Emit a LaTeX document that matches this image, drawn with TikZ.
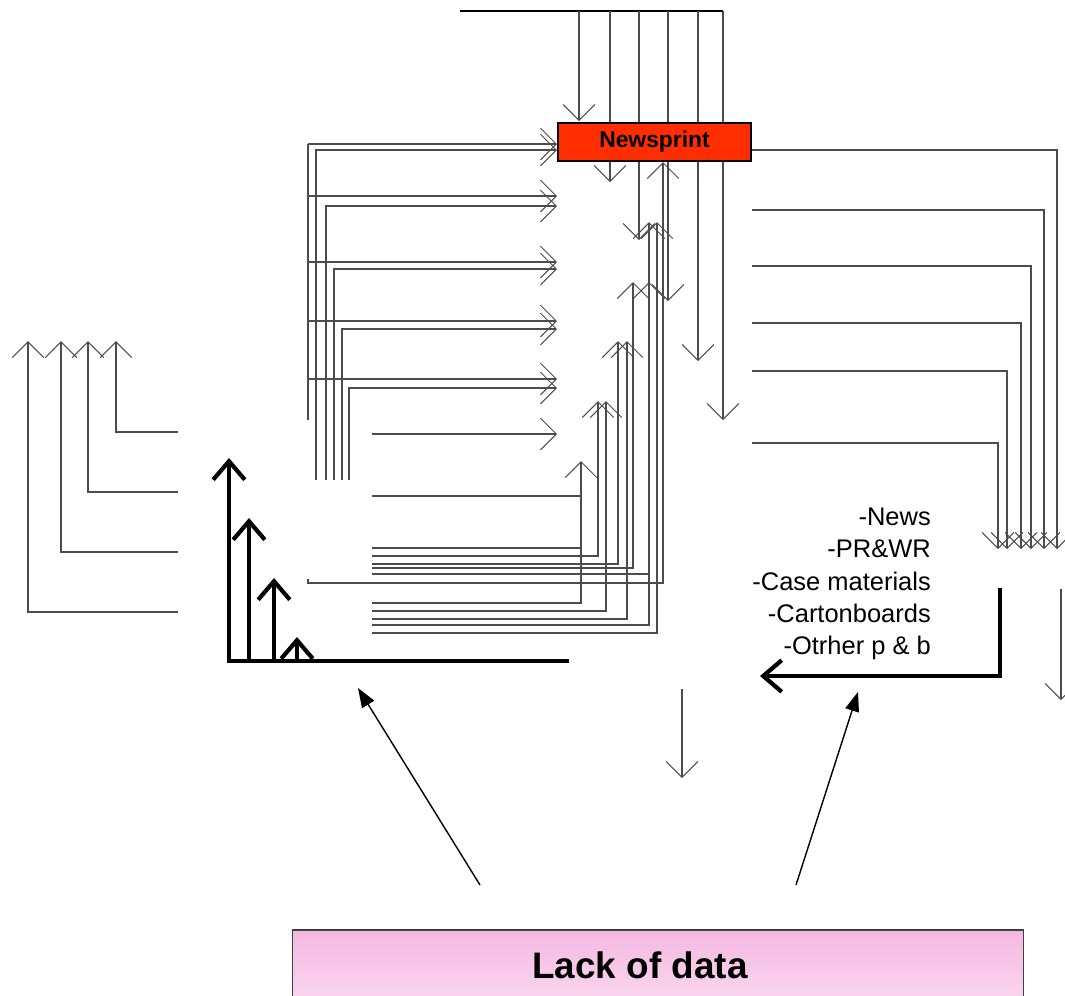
\documentclass[tikz,border=0pt]{standalone}
\usepackage{fontspec}
\setmainfont{Liberation Sans}
\usepackage{tikz}
\usetikzlibrary{arrows.meta}
\usetikzlibrary{positioning}
\definecolor{newsred}{RGB}{255,45,0}
\definecolor{lacktop}{RGB}{244,184,226}
\definecolor{lackbot}{RGB}{250,214,238}
\tikzset{
	newsbox/.style={rectangle, draw=black, line width=1.3pt, fill=newsred, minimum width=3.86cm, minimum height=0.76cm, inner sep=0pt, font=\fontsize{13}{15}\selectfont\bfseries},
	lackbox/.style={rectangle, draw=black!75, line width=0.6pt, top color=lacktop, bottom color=lackbot, minimum width=14.64cm, minimum height=1.4cm, inner sep=0pt, font=\fontsize{21}{24}\selectfont\bfseries}
}
\tikzset{
	flow/.style={draw=black!70, line width=0.6pt, -{Straight Barb[length=9pt,width=18pt]}},
	plainflow/.style={draw=black!70, line width=0.6pt},
	bigflow/.style={line width=2.4pt, -{Straight Barb[length=10.5pt,width=18pt]}},
	dataarrow/.style={line width=0.8pt, -{Triangle[length=11pt,width=8pt]}}
}
\begin{document}
\begin{tikzpicture}[x=0.02cm,y=-0.02cm]
		\useasboundingbox (0,0) rectangle (1065,995);
		
		%Lines from the top
		\draw[plainflow, draw=black] (460,11) -- (723,11);
		\draw[flow] (579,11) -- (579,121);
		\draw[flow] (610,11) -- (610,182);
		\draw[flow] (639,11) -- (639,240);
		\draw[flow] (668,11) -- (668,301);
		\draw[flow] (698,11) -- (698,361);
		\draw[flow] (723,11) -- (723,420);
		
		%Lines from the left
		\draw[plainflow] (308,420) -- (308,144);
		\draw[flow] (308,144) -- (557,144);
		\draw[flow] (316,480) -- (316,150) -- (557,150);
		\draw[flow] (308,196) -- (557,196);
		\draw[flow] (326,480) -- (326,206) -- (557,206);
		\draw[flow] (308,262) -- (557,262);
		\draw[flow] (334,480) -- (334,269) -- (557,269);
		\draw[flow] (308,321) -- (557,321);
		\draw[flow] (342,480) -- (342,329) -- (557,329);
		\draw[flow] (308,379) -- (557,379);
		\draw[flow] (349,480) -- (349,388) -- (557,388);
		\draw[flow] (372,434) -- (557,434);
		
		%Lines from below
		\draw[plainflow] (372,496) -- (581,496);
		\draw[plainflow] (372,548) -- (581,548);
		\draw[flow] (372,603) -- (581,603) -- (581,461);
		\draw[flow] (372,556) -- (598,556) -- (598,401);
		\draw[flow] (372,611) -- (606,611) -- (606,401);
		\draw[flow] (372,564) -- (618,564) -- (618,341);
		\draw[flow] (372,619) -- (627,619) -- (627,341);
		\draw[flow] (372,568) -- (633,568) -- (633,282);
		\draw[flow] (372,625) -- (649,625) -- (649,282);
		\draw[flow] (372,574) -- (649,574) -- (649,222);
		\draw[flow] (372,633) -- (657,633) -- (657,222);
		\draw[flow] (308,579) -- (308,583) -- (663,583) -- (663,162);
		
		%Lines to the right
		\draw[flow] (751,150) -- (1057,150) -- (1057,549);
		\draw[flow] (752,210) -- (1044,210) -- (1044,549);
		\draw[flow] (752,266) -- (1031,266) -- (1031,549);
		\draw[flow] (752,323) -- (1021,323) -- (1021,549);
		\draw[flow] (752,371) -- (1007,371) -- (1007,549);
		\draw[flow] (752,443) -- (998,443) -- (998,549);
		\draw[flow] (1061,589) -- (1061,700);
		\draw[flow] (682,689) -- (682,778);
		
		%Lines to the far left
		\draw[flow] (178,432) -- (116,432) -- (116,341);
		\draw[flow] (178,492) -- (88,492) -- (88,341);
		\draw[flow] (178,552) -- (61,552) -- (61,341);
		\draw[flow] (178,612) -- (28,612) -- (28,341);
		
		%Thick lines
		\draw[line width=2.4pt] (227,661) -- (569,661);
		\draw[bigflow] (229,661) -- (229,458);
		\draw[bigflow] (249,661) -- (249,518);
		\draw[bigflow] (274,661) -- (274,578);
		\draw[bigflow] (297,661) -- (297,637);
		\draw[bigflow] (1000,588) -- (1000,676) -- (760,676);
		
		%Nodes
		\node[newsbox] (news) at (654.5,142) {Newsprint};
		\node[lackbox] (lack) at (658,965) {\hspace*{-0.72cm}Lack of data};
		\node[align=right, anchor=east, font=\fontsize{14.5}{18.3}\selectfont] (types) at (937,584) {-News\\-PR\&WR\\-Case materials\\-Cartonboards\\-Otrher p \& b};
		
		%Arrows from the box
		\coordinate (lackL) at (480,885);
		\coordinate (lackR) at (796,885);
		\coordinate (thickend) at (358,688);
		\coordinate (labelend) at (858,692);
		\draw[dataarrow] (lackL) -- (thickend);
		\draw[dataarrow] (lackR) -- (labelend);
		
	\end{tikzpicture}
\end{document}
